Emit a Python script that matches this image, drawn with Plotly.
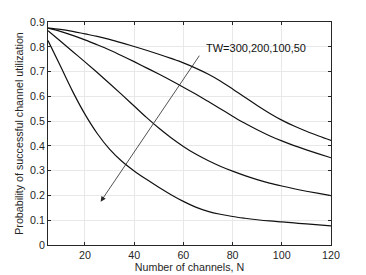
import plotly.graph_objects as go

# Number of channels N
channels = [5, 10, 15, 20, 25, 30, 35, 40, 45, 50, 55, 60, 65, 70, 75, 80, 85, 90, 95, 100, 105, 110, 115, 120]

# Probability of successful channel utilization for each TW
tw300 = [0.875, 0.870, 0.862, 0.852, 0.842, 0.830, 0.816, 0.801, 0.786, 0.770, 0.753, 0.735, 0.714, 0.690, 0.662, 0.630, 0.596, 0.563, 0.532, 0.504, 0.480, 0.459, 0.440, 0.422]
tw200 = [0.875, 0.862, 0.846, 0.828, 0.808, 0.787, 0.764, 0.740, 0.715, 0.690, 0.664, 0.637, 0.609, 0.580, 0.550, 0.520, 0.491, 0.465, 0.441, 0.420, 0.401, 0.384, 0.368, 0.352]
tw100 = [0.865, 0.823, 0.781, 0.739, 0.696, 0.652, 0.607, 0.561, 0.515, 0.472, 0.433, 0.398, 0.367, 0.341, 0.318, 0.298, 0.280, 0.264, 0.250, 0.238, 0.227, 0.217, 0.208, 0.199]
tw50 = [0.825, 0.723, 0.620, 0.528, 0.450, 0.387, 0.338, 0.299, 0.265, 0.233, 0.203, 0.176, 0.153, 0.136, 0.124, 0.115, 0.108, 0.102, 0.097, 0.093, 0.089, 0.085, 0.081, 0.077]

series = [("TW=300", tw300), ("TW=200", tw200), ("TW=100", tw100), ("TW=50", tw50)]

x_ticks = [20, 40, 60, 80, 100, 120]
y_ticks = [0, 0.1, 0.2, 0.3, 0.4, 0.5, 0.6, 0.7, 0.8, 0.9]
y_tick_labels = ["0", "0.1", "0.2", "0.3", "0.4", "0.5", "0.6", "0.7", "0.8", "0.9"]

label_text = "TW=300,200,100,50"

FONT = "Liberation Sans, Arial, sans-serif"
TXT = "#262626"

fig = go.Figure()
for name, vals in series:
    fig.add_trace(go.Scatter(x=channels, y=vals, mode="lines", name=name,
                             line=dict(color="#111111", width=1.2, shape="spline", smoothing=1.0),
                             showlegend=False, hoverinfo="skip"))

fig.add_annotation(x=26.4, y=0.175, ax=66.9, ay=0.770, xref="x", yref="y",
                   axref="x", ayref="y", text="", showarrow=True,
                   arrowhead=2, arrowsize=1.3, arrowwidth=0.8, arrowcolor="#262626")
fig.add_annotation(x=68.2, y=0.797, xref="x", yref="y", text=label_text,
                   showarrow=False, xanchor="left", yanchor="middle",
                   font=dict(family=FONT, size=11, color="#111111"))

axis_common = dict(showline=True, linecolor=TXT, linewidth=0.8, mirror="allticks",
                   ticks="inside", ticklen=3, tickcolor=TXT, tickwidth=0.8,
                   showgrid=True, gridcolor="#e8e8e8", gridwidth=1, zeroline=False,
                   tickfont=dict(family=FONT, size=10.7, color=TXT))

fig.update_xaxes(range=[5, 120], tickvals=x_ticks,
                 title=dict(text="Number of channels, N", standoff=0,
                            font=dict(family=FONT, size=10.7, color=TXT)),
                 **axis_common)
fig.update_yaxes(range=[0, 0.9], tickvals=y_ticks, ticktext=y_tick_labels,
                 title=dict(text="Probability of successful channel utilization", standoff=4,
                            font=dict(family=FONT, size=10.7, color=TXT)),
                 **axis_common)

fig.update_layout(width=366, height=275, plot_bgcolor="white", paper_bgcolor="white",
                  margin=dict(l=48, r=35, t=22, b=30, autoexpand=False))

fig.write_html("out.html", config={"displayModeBar": False},
               post_script="document.body.style.margin='0';")
